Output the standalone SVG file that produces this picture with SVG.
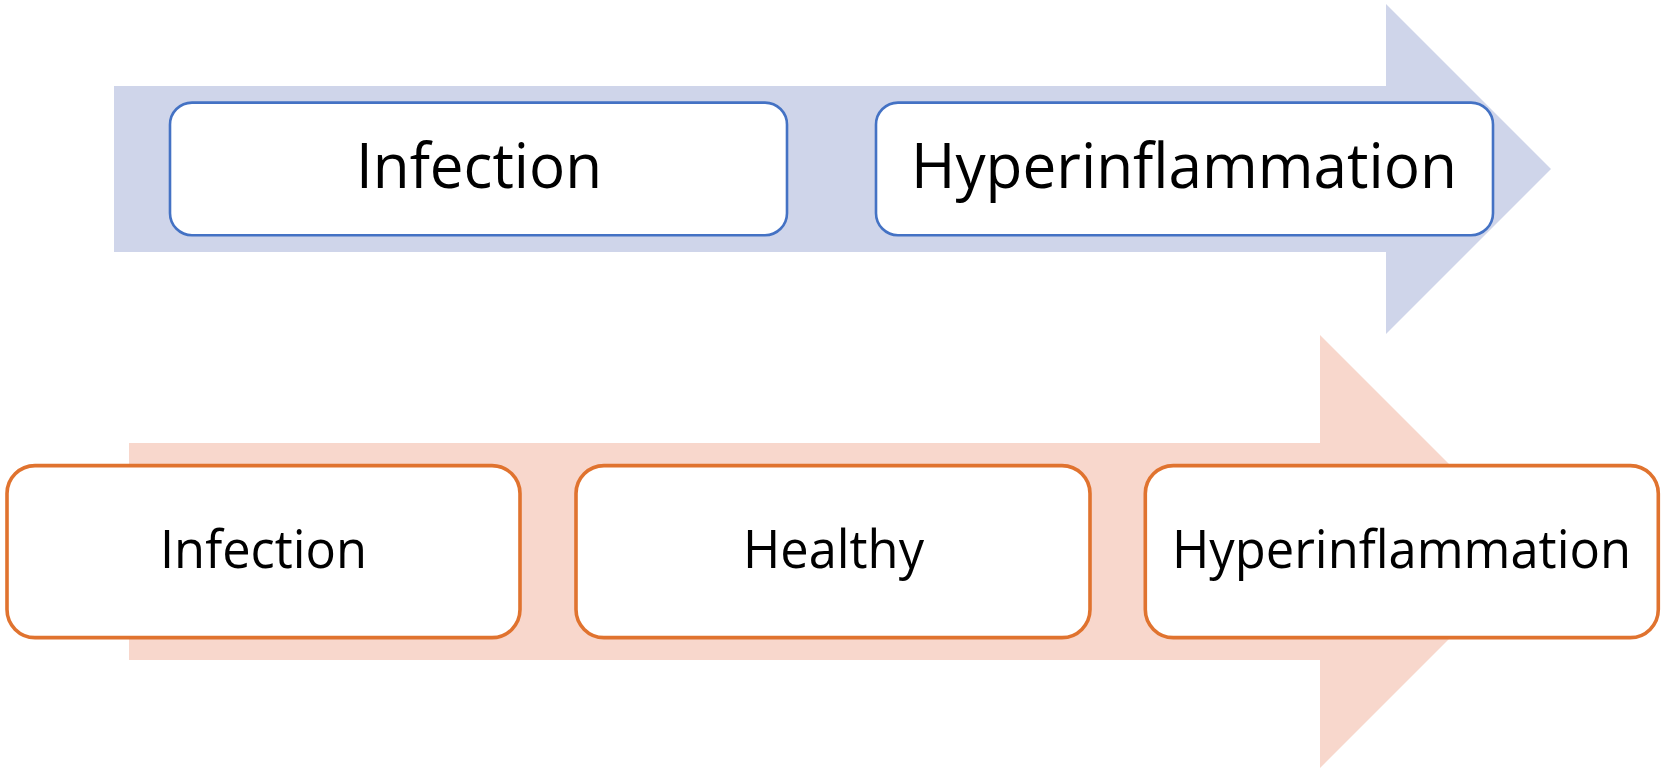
<svg xmlns="http://www.w3.org/2000/svg" width="1665" height="771" viewBox="0 0 1665 771">
<style>
.blue-arrow{fill:#CFD5EA}
.orange-arrow{fill:#F8D7CC}
.bbox{fill:#FFFFFF;stroke:#4472C4;stroke-width:2.6}
.obox{fill:#FFFFFF;stroke:#E0732F;stroke-width:3.6}
.t{font-family:"Open Sans","Noto Sans","DejaVu Sans",sans-serif;fill:#000000;text-anchor:middle}
.tl{font-size:62px}
.ts{font-size:53px}
</style>
<rect width="1665" height="771" fill="#FFFFFF"/>
<g id="arrows">
<polygon class="blue-arrow" points="114,86 1386,86 1386,4 1551,169 1386,334 1386,252 114,252"/>
<polygon class="orange-arrow" points="129,443 1320,443 1320,335 1536.5,551.5 1320,768 1320,660 129,660"/>
</g>
<g id="node-top-infection">
<rect class="bbox" x="170" y="102.6" width="617" height="132.6" rx="22"/>
<text class="t tl" x="479" y="188" textLength="246" lengthAdjust="spacingAndGlyphs">Infection</text>
</g>
<g id="node-top-hyperinflammation">
<rect class="bbox" x="876" y="102.6" width="617" height="132.6" rx="22"/>
<text class="t tl" x="1184" y="188" textLength="546" lengthAdjust="spacingAndGlyphs">Hyperinflammation</text>
</g>
<g id="node-bottom-infection">
<rect class="obox" x="7" y="465.6" width="513" height="172" rx="28"/>
<text class="t ts" x="263.5" y="568" textLength="207" lengthAdjust="spacingAndGlyphs">Infection</text>
</g>
<g id="node-bottom-healthy">
<rect class="obox" x="576" y="465.6" width="514" height="172" rx="28"/>
<text class="t ts" x="833.5" y="568" textLength="181" lengthAdjust="spacingAndGlyphs">Healthy</text>
</g>
<g id="node-bottom-hyperinflammation">
<rect class="obox" x="1145.3" y="465.6" width="513" height="172" rx="28"/>
<text class="t ts" x="1401.5" y="568" textLength="459" lengthAdjust="spacingAndGlyphs">Hyperinflammation</text>
</g>
<g id="connectors"></g>
</svg>
